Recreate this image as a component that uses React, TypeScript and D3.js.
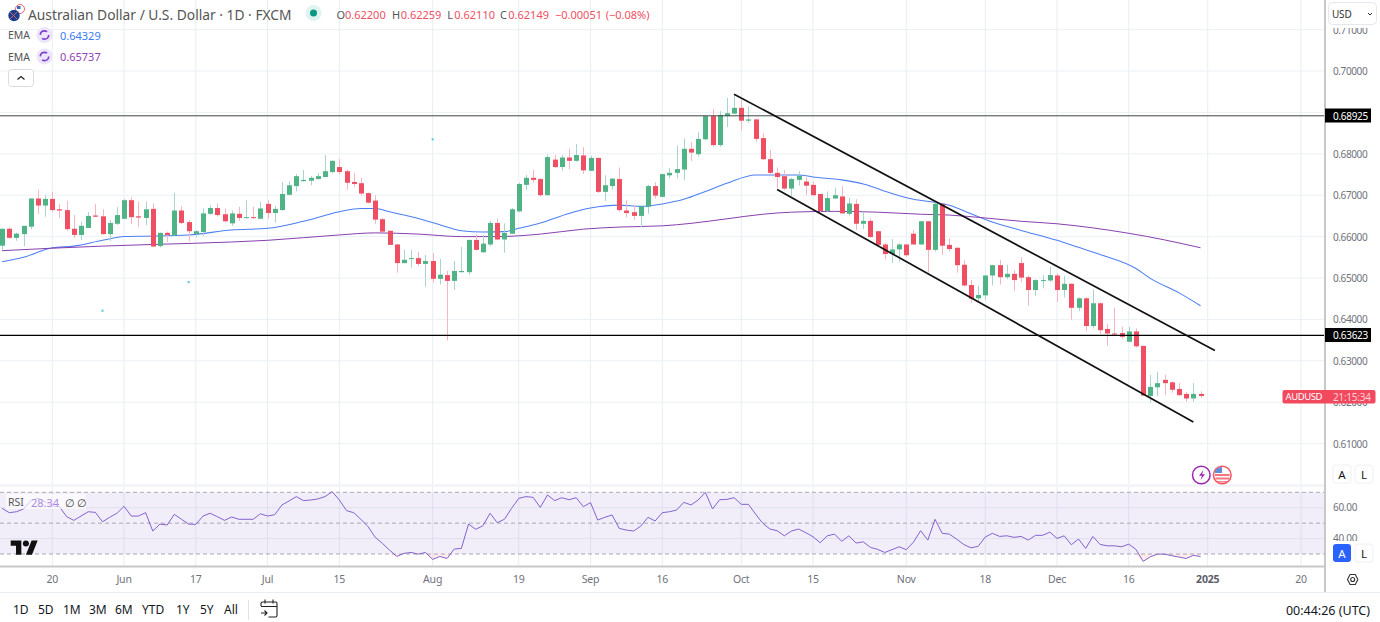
import React from "react";
import * as d3 from "d3";

const firstIndex = -7;
const opens = [6578,6619,6597,6606,6624,6692,6675,
6691,6666,6664,6619,6604,6621,6651,6649,6606,6631,
6643,6688,6649,6645,6667,6577,6609,6603,6663,6635,
6606,6611,6655,6669,6654,6632,6655,6646,6647,6643,
6679,6657,6664,6701,6722,6734,6735,6739,6744,6756,
6768,6758,6732,6729,6705,6687,6642,6614,6581,6536,
6546,6548,6534,6541,6498,6507,6493,6514,6514,6592,
6562,6581,6633,6593,6607,6661,6725,6742,6739,6700,
6786,6768,6791,6783,6796,6759,6790,6708,6722,6739,
6663,6659,6650,6672,6722,6696,6748,6754,6762,6812,
6799,6835,6891,6821,6891,6897,6911,6880,6883,6838,
6787,6754,6746,6716,6737,6733,6725,6703,6662,6692,
6697,6655,6679,6631,6638,6613,6581,6558,6569,6581,
6607,6581,6637,6568,6679,6580,6573,6532,6483,6451,
6458,6506,6531,6502,6510,6536,6502,6471,6494,6494,
6506,6471,6486,6428,6451,6384,6439,6377,6366,6367,
6346,6371,6336,6215,6236,6254,6248,6232,6220,6209,6220];
const highs = [6619,6622,6610,6626,6692,6713,6700,
6708,6679,6686,6652,6636,6659,6679,6666,6640,6671,
6691,6696,6684,6684,6680,6610,6612,6705,6674,6640,
6616,6668,6675,6680,6668,6663,6672,6688,6672,6684,
6688,6674,6732,6733,6751,6761,6746,6754,6797,6784,
6787,6762,6754,6742,6706,6700,6645,6615,6582,6568,
6568,6563,6556,6560,6546,6517,6541,6575,6592,6606,
6604,6638,6643,6632,6669,6730,6749,6761,6741,6798,
6797,6797,6812,6824,6816,6795,6791,6748,6742,6767,
6688,6676,6673,6725,6731,6752,6766,6819,6837,6828,
6852,6892,6908,6903,6935,6943,6931,6914,6885,6849,
6809,6767,6761,6742,6758,6743,6733,6703,6709,6718,
6722,6694,6690,6660,6644,6614,6584,6594,6584,6582,
6616,6638,6638,6684,6680,6596,6574,6543,6495,6481,
6507,6532,6544,6532,6519,6550,6506,6497,6507,6527,
6511,6505,6487,6453,6453,6471,6441,6389,6428,6383,
6382,6378,6336,6266,6273,6266,6250,6246,6225,6246,6226];
const lows = [6568,6595,6590,6577,6618,6655,6648,
6659,6645,6614,6597,6592,6621,6647,6605,6589,6628,
6642,6630,6624,6628,6574,6574,6587,6601,6630,6589,
6598,6601,6653,6649,6634,6626,6638,6644,6643,6642,
6644,6634,6663,6700,6709,6733,6724,6738,6743,6753,
6751,6713,6721,6699,6680,6630,6611,6579,6513,6535,
6525,6529,6479,6489,6485,6349,6471,6514,6508,6566,
6562,6577,6591,6561,6606,6659,6713,6730,6696,6700,
6765,6759,6763,6781,6751,6758,6705,6686,6713,6660,
6647,6640,6622,6655,6692,6695,6741,6741,6737,6783,
6793,6833,6817,6817,6865,6896,6856,6875,6829,6785,
6750,6717,6713,6698,6723,6700,6699,6654,6659,6691,
6655,6651,6616,6618,6597,6576,6545,6537,6539,6551,
6580,6580,6513,6564,6556,6564,6513,6479,6440,6443,
6447,6482,6484,6497,6469,6490,6433,6457,6475,6490,
6442,6453,6399,6420,6372,6378,6365,6336,6360,6352,
6345,6332,6215,6199,6215,6217,6223,6216,6201,6201,6211];
const closes = [6619,6597,6607,6626,6692,6675,6691,
6664,6663,6618,6604,6626,6650,6648,6606,6633,6652,
6688,6647,6646,6666,6576,6609,6604,6663,6633,6613,
6613,6656,6669,6652,6637,6656,6645,6647,6646,6668,
6657,6667,6703,6724,6746,6737,6742,6746,6758,6783,
6756,6730,6727,6704,6682,6641,6612,6580,6536,6544,
6548,6534,6541,6498,6508,6493,6517,6517,6592,6568,
6583,6633,6593,6609,6666,6727,6742,6737,6700,6792,
6768,6791,6783,6797,6760,6790,6708,6724,6740,6664,
6657,6650,6673,6722,6699,6751,6754,6763,6812,6803,
6836,6891,6821,6894,6898,6911,6880,6883,6836,6787,
6754,6744,6716,6739,6747,6723,6700,6662,6693,6700,
6656,6680,6631,6638,6599,6580,6558,6569,6581,6555,
6581,6637,6568,6679,6578,6570,6531,6482,6450,6459,
6506,6531,6502,6510,6495,6501,6471,6495,6495,6507,
6471,6486,6428,6451,6384,6439,6374,6366,6365,6358,
6371,6335,6216,6237,6246,6246,6230,6217,6209,6220,6215];

const rsiValues = [59.6,56.8,57.4,59.2,64.6,66.1,63.9,
61.1,60.7,54.2,51.8,54.6,57.4,57,50.9,53.8,56.4,
60.9,54.6,54.6,56.8,44.9,49.4,48.8,55.7,52.5,49.4,
49.2,54.6,56.4,54.2,51.8,54,52.5,52.5,52.5,56.1,
54.6,55.5,61.8,64.4,67.2,64.6,65,65.7,67.2,70.4,
65,58.1,56.8,52.5,47.7,40.8,36.9,32.5,28.4,30.4,
31,29.9,31,26.5,28.4,27.1,33.2,33.6,49.4,46,
48.3,56.4,50.3,52.5,59.6,66.1,67.2,66.7,60.2,68.3,
64.6,66.5,65.2,66.5,60.7,63.3,52,53.8,55.3,46.6,
45.5,44.9,48.1,53.8,51.4,56.8,57.4,58.5,63.5,61.8,
65,70,59.2,65.2,65.4,66.5,62.2,62.2,55.9,49.9,
46.2,45.1,41.8,44.9,46.2,43.8,41.2,37.3,41.8,42.9,
38.2,41.8,37.1,37.9,34.3,33,31,32.8,34.7,32.8,
37.7,45.1,39,52.5,43.4,42.9,39.7,36.2,34,34.9,
41,43.4,41.4,41.8,40.8,41.4,39,42.1,42.1,44.2,
40.1,41.8,36,39.7,33.6,41.4,36.2,35.3,35.3,34.7,
36.4,33,25.2,28.2,29.9,29.9,28.9,28,27.1,29.1,28.34];

const emaFastIndex = [-7,-4,0,3,7,10,13,19,25,30,35,40,43,45,47,51,55,57,60,63,65,68,72,75,79,82,85,88,91,94,98,101,104,106,110,113,117,120,123,125,128,131,135,140,143,146,151,153,157,160];
const emaFastValues = [6539,6550,6573,6577,6591,6600,6601,6604,6616,6620,6637,6660,6668,6668,6660,6644,6623,6614,6611,6612,6620,6633,6656,6669,6676,6673,6679,6690,6709,6729,6749,6749,6749,6744,6737,6727,6704,6690,6683,6676,6655,6635,6615,6591,6574,6557,6523,6499,6464,6433];
const emaSlowIndex = [-7,0,7,14,20,30,40,45,51,57,62,68,74,79,85,89,94,99,103,109,115,121,125,130,135,140,145,150,155,160];
const emaSlowValues = [6566,6572,6577,6581,6584,6591,6604,6609,6606,6600,6600,6606,6618,6623,6626,6632,6643,6654,6659,6661,6659,6654,6652,6645,6637,6631,6621,6608,6592,6573];

const priceTicks = [0.71,0.7,0.69,0.68,0.67,0.66,0.65,0.64,0.63,0.62,0.61];
const hiddenPriceLabels = [0.69];
const rsiTicks = [60,40];
const timeTickIndex = [0,10,20,30,40,53,65,75,85,96,106,119,130,140,150,161,174];
const timeTickLabels = ["20","Jun","17","Jul","15","Aug","19","Sep","16","Oct","15","Nov","18","Dec","16","2025","20"];
const ranges = ["1D","5D","1M","3M","6M","YTD","1Y","5Y","All"];
const rangeX = [13,38,63,89,115,142,176,200,224];
const levelPrices = [0.68925,0.63623];
const upperTrend = [[95,6944],[162,6325]];
const lowerTrend = [[101,6714],[159,6152]];
const markerIndex = [7,19,53];
const markerPrices = [6421,6490,6835];
const legend = {o:"0.62200",h:"0.62259",l:"0.62110",c:"0.62149",d:"−0.00051",p:"(−0.08%)"};

const UP = "#4fb386", DOWN = "#ef4f63", UPW = "#a9d3cd", DOWNW = "#f7b5bf";
const FONT = "'Noto Sans', sans-serif";
const W = 1380, H = 622, AX = 1325;

export default function App() {
  const x = d3.scaleLinear().domain([0,174]).range([52.3,1301]);
  const y = d3.scaleLinear().domain([0.61,0.71]).range([443.6,29.6]);
  const yp = (v:number)=>y(v/10000);
  const r = d3.scaleLinear().domain([30,70]).range([554,492.3]);
  const idx = (k:number)=>k+firstIndex;
  const curve = d3.curveMonotoneX;
  const emaLine = (ii:number[],vv:number[]) => d3.line<number>().x(d=>x(ii[d])).y(d=>yp(vv[d])).curve(curve)(d3.range(ii.length)) as string;
  const rsiLine = d3.line<number>().x((_,k)=>x(idx(k))).y(d=>r(d))(rsiValues) as string;
  const oversold = d3.area<number>().x((_,k)=>x(idx(k))).y0(r(30)).y1(d=>r(Math.min(d,30)))(rsiValues) as string;
  const label = (t:string,lx:number,ly:number,fill="#6f727c",ls=-0.4) => <text x={lx} y={ly} fill={fill} fontSize={10} letterSpacing={ls} dominantBaseline="central">{t}</text>;
  return (
    <svg width={W} height={H} viewBox={`0 0 ${W} ${H}`} style={{position:"fixed",left:0,top:0,background:"#fff",fontFamily:FONT}}>
      <defs>
        <clipPath id="pane"><rect x={0} y={0} width={AX} height={485}/></clipPath>
        <clipPath id="rsi"><rect x={0} y={488} width={AX} height={78}/></clipPath>
      </defs>
      {/* grid */}
      {timeTickIndex.map((t,k)=>x(t)<AX && <line key={k} x1={x(t)} x2={x(t)} y1={0} y2={566} stroke="#e7eef4" strokeWidth={1}/>)}
      {priceTicks.map(p=><line key={p} x1={0} x2={AX} y1={y(p)} y2={y(p)} stroke="#ecf1f5"/>)}
      <rect x={0} y={484} width={AX} height={3} fill="#f3f5f9"/>
      {/* markers */}
      {markerIndex.map((m,k)=><rect key={k} x={x(m)-1} y={yp(markerPrices[k])-1} width={2} height={2} fill="#4dc8de"/>)}
      {/* candles */}
      <g clipPath="url(#pane)">
        <path d={emaLine(emaFastIndex,emaFastValues)} fill="none" stroke="#4d7ff5" strokeWidth={1.05}/>
        <path d={emaLine(emaSlowIndex,emaSlowValues)} fill="none" stroke="#8a3fb0" strokeWidth={1}/>
        {opens.map((o,k)=>{
          const c=closes[k], up=c>=o, cx=Math.round(x(idx(k)));
          const top=yp(Math.max(o,c)), bot=yp(Math.min(o,c));
          return <g key={k}>
            <line x1={cx+0.5} x2={cx+0.5} y1={yp(highs[k])} y2={yp(lows[k])} stroke={up?UPW:DOWNW}/>
            <rect x={cx-2} y={top} width={5} height={Math.max(bot-top,1)} fill={up?UP:DOWN}/>
          </g>;
        })}
        {levelPrices.map((p,k)=><line key={p} x1={0} x2={AX} y1={y(p)+0.3} y2={y(p)+0.3} stroke={k?"#000":"#444"} strokeWidth={k?1.3:1}/>)}
        {[upperTrend,lowerTrend].map((t,k)=><line key={k} x1={x(t[0][0])} y1={yp(t[0][1])} x2={x(t[1][0])} y2={yp(t[1][1])} stroke="#111" strokeWidth={1.7}/>)}
      </g>
      {/* RSI */}
      <rect x={0} y={r(70)} width={AX} height={r(30)-r(70)} fill="#7e57c2" fillOpacity={0.1}/>
      {rsiTicks.map(t=><line key={t} x1={0} x2={AX} y1={r(t)} y2={r(t)} stroke="#dfe0ee"/>)}
      {[70,50,30].map(t=><line key={t} x1={0} x2={AX} y1={r(t)} y2={r(t)} stroke="#a9a9b2" strokeDasharray="4 3"/>)}
      <g clipPath="url(#rsi)">
        <path d={oversold} fill="#f23645" fillOpacity={0.1}/>
        <path d={rsiLine} fill="none" stroke="#8462cf" strokeWidth={1}/>
      </g>
      <rect x={6} y={494} width={80} height={15} fill="#fff" fillOpacity={0.65}/>
      <text x={8} y={502} fontSize={10.5} fill="#555" dominantBaseline="central">RSI</text>
      <text x={31} y={502} fontSize={11} fill="#a98be0" dominantBaseline="central">28.34</text>
      <text x={65} y={502} fontSize={11} fill="#444" dominantBaseline="central">∅</text>
      <text x={77} y={502} fontSize={11} fill="#444" dominantBaseline="central">∅</text>
      {/* logo */}
      <g transform="translate(10.7,540.4) scale(0.76)" fill="#111">
        <path d="M14 19H7V7H0V0h14v19zM28 19h-8L27.5 0h8L28 19z"/><circle cx="20" cy="4" r="4"/>
      </g>
      {/* frames */}
      <line x1={0} x2={AX} y1={566.5} y2={566.5} stroke="#c8c8c8" strokeWidth={2}/>
      <line x1={AX} x2={AX} y1={0} y2={592} stroke="#c8c8c8" strokeWidth={2}/>
      <line x1={0} x2={W} y1={592.5} y2={592.5} stroke="#e9ecf2"/>
      {/* time axis */}
      {timeTickLabels.map((t,k)=><text key={k} x={x(timeTickIndex[k])} y={578.5} textAnchor="middle" fontSize={10.5} letterSpacing={-0.2} fill={t==="2025"?"#5a5d68":"#6f727c"} fontWeight={t==="2025"?700:400} dominantBaseline="central">{t}</text>)}
      {/* price axis */}
      {priceTicks.filter(p=>!hiddenPriceLabels.includes(p)).map(p=><React.Fragment key={p}>{label(d3.format(".5f")(p),1333,y(p))}</React.Fragment>)}
      <rect x={1327} y={0} width={53} height={28} fill="#fff"/>
      {rsiTicks.map(t=><React.Fragment key={t}>{label(d3.format(".2f")(t),1333,r(t)-0.5,"#6f727c",-0.3)}</React.Fragment>)}
      <rect x={1327} y={541} width={53} height={25} fill="#fff"/>
      {levelPrices.map(p=><g key={p}>
        <rect x={AX} y={y(p)-7} width={46} height={14} fill="#000"/>
        {label(d3.format(".5f")(p),1333,y(p),"#fff",-0.3)}
      </g>)}
      <rect x={1282.5} y={390} width={93} height={13.5} rx={2} fill="#f2495f"/>
      <text x={1285.5} y={396.8} fontSize={9.5} letterSpacing={-0.4} fill="#fff" dominantBaseline="central">AUDUSD</text>
      {label("21:15:34",1333,396.8,"#fbd0d6",-0.25)}
      {/* USD */}
      <rect x={1328.5} y={2.5} width={48} height={22} rx={4} fill="#fff" stroke="#e4e7ee"/>
      <text x={1332} y={14} fontSize={10} letterSpacing={-0.2} fill="#333" dominantBaseline="central">USD</text>
      <path d="M1368 13l2 2 2-2" fill="none" stroke="#333"/>
      {/* A L buttons */}
      {[[1333,465,false,"A"],[1355,465,false,"L"],[1333,544,true,"A"],[1355,544,false,"L"]].map((b:any,k)=><g key={k}>
        <rect x={b[0]} y={b[1]} width={18} height={18} rx={3} fill={b[2]?"#2962ff":"#fff"} stroke={b[2]?"none":"#edf0f4"}/>
        <text x={b[0]+9} y={b[1]+9} fontSize={11.5} textAnchor="middle" dominantBaseline="central" fill={b[2]?"#fff":"#131722"}>{b[3]}</text>
      </g>)}
      <path d="M1347.5 579.5l2.6-5h5.2l2.6 5-2.6 5h-5.2z" fill="none" stroke="#333" strokeWidth={1.1}/>
      <circle cx={1352.7} cy={579.5} r={2} fill="none" stroke="#333" strokeWidth={1.1}/>
      {/* header */}
      <circle cx={20} cy={9} r={4.5} fill="#fff" stroke="#f0626e" strokeWidth={1}/>
      <rect x={17} y={6} width={3.5} height={3} fill="#3a68c8"/>
      <circle cx={14} cy={15.5} r={5.7} fill="#1b3f8f"/>
      <path d="M10 12l7 7M17 12l-7 7" stroke="#e66" strokeWidth={0.9}/>
      <text x={28} y={14} fontSize={13.8} fill="#555" dominantBaseline="central">Australian Dollar / U.S. Dollar · 1D · FXCM</text>
      <circle cx={313.5} cy={13} r={8} fill="#089981" fillOpacity={0.12}/>
      <circle cx={313.5} cy={13} r={3.5} fill="#089981"/>
      {[["O",336.5,"#555"],[legend.o,345,DOWN],["H",392,"#555"],[legend.h,400.7,DOWN],["L",447.3,"#555"],[legend.l,454.3,DOWN],["C",500,"#555"],[legend.c,508.3,DOWN],[legend.d,555,DOWN],[legend.p,605.7,DOWN]].map((t:any,k)=>
        <text key={k} x={t[1]} y={14} fontSize={11} fill={t[2]} dominantBaseline="central">{t[0]}</text>)}
      {[[35,"0.64329","#3a7bf6"],[56.5,"0.65737","#9142b5"]].map((t:any,k)=><g key={k}>
        <text x={8} y={t[0]} fontSize={10.5} fill="#555" dominantBaseline="central">EMA</text>
        <circle cx={44.5} cy={t[0]} r={8} fill="#ede5fb"/>
        <circle cx={44.5} cy={t[0]} r={4.2} fill="none" stroke="#7a3fd0" strokeWidth={1.7} strokeDasharray="9 4"/>
        <text x={60} y={t[0]} fontSize={11} fill={t[2]} dominantBaseline="central">{t[1]}</text>
      </g>)}
      <rect x={8.5} y={69.5} width={25} height={17} rx={3} fill="#fff" stroke="#d8dbe2"/>
      <path d="M17.5 79.5l3.5-3 3.500 3" fill="none" stroke="#222" strokeWidth={1.2}/>
      {/* event icons */}
      <circle cx={1201.3} cy={475} r={8.8} fill="#fff" stroke="#9c27b0" strokeWidth={1.5}/>
      <path d="M1203.500 470l-4.500 5.800h3l-1.500 4.200 4.500-5.800h-3z" fill="#9c27b0"/>
      <circle cx={1222.3} cy={475} r={8.8} fill="#fff" stroke="#f7525f" strokeWidth={1.5}/>
      <rect x={1215} y={474} width={14.6} height={2} fill="#f7525f" opacity={0.8}/>
      <rect x={1215.500} y={477.500} width={13.600} height={2} fill="#f7525f" opacity={0.8}/>
      <rect x={1217} y={481} width={10.600} height={1.500} fill="#f7525f" opacity={0.7}/>
      <path d="M1215 473v-2.500q2-3 6-3.500h1v6z" fill="#5f8fd8"/>
      {/* bottom toolbar */}
      {ranges.map((t,k)=><text key={t} x={rangeX[k]} y={609.5} fontSize={12} fill="#131722" dominantBaseline="central">{t}</text>)}
      <line x1={248.5} x2={248.5} y1={600} y2={620} stroke="#e0e3eb"/>
      <path d="M261 606v-2.500q0-1.500 1.500-1.500h13q1.500 0 1.500 1.500v12q0 1.500-1.500 1.500h-7M261 606.500h16M265 599.500v4M273 599.500v4M261 613h6M264.500 610.500l2.500 2.500-2.500 2.500" fill="none" stroke="#222" strokeWidth={1.1}/>
      <text x={1370} y={610} fontSize={12.5} fill="#131722" textAnchor="end" dominantBaseline="central">00:44:26 (UTC)</text>
    </svg>
  );
}
